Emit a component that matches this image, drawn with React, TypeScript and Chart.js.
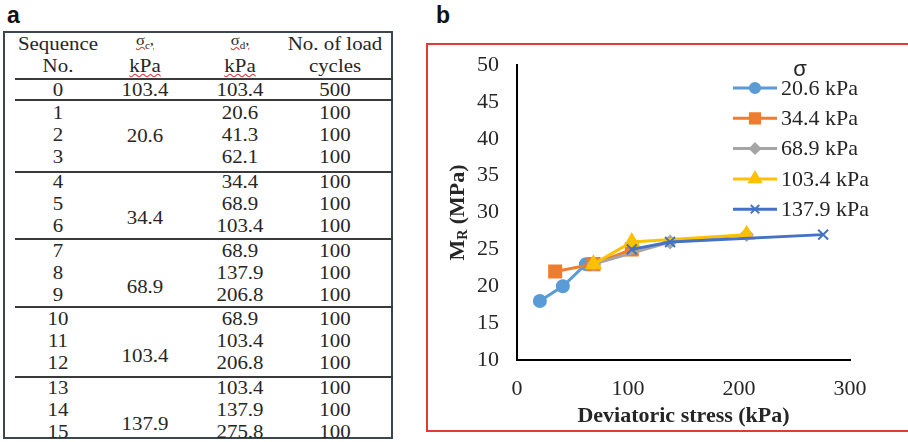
import React, { useEffect, useRef } from 'react';
import { Chart, registerables } from 'chart.js';
import { drawPoint } from 'chart.js/helpers';

Chart.register(...registerables);

// ---------- Panel b data ----------
const seriesNames = ['20.6 kPa', '34.4 kPa', '68.9 kPa', '103.4 kPa', '137.9 kPa'];
const stress20_6 = [20.6, 41.3, 62.1];
const modulus20_6 = [18, 20, 23];
const stress34_4 = [34.4, 68.9, 103.4];
const modulus34_4 = [22, 23, 25];
const stress68_9 = [68.9, 137.9, 206.8];
const modulus68_9 = [23, 26, 27];
const stress103_4 = [68.9, 103.4, 206.8];
const modulus103_4 = [23, 26, 27];
const stress137_9 = [103.4, 137.9, 275.8];
const modulus137_9 = [25, 26, 27];
const xTickValues = [0, 100, 200, 300];
const yTickValues = [10, 15, 20, 25, 30, 35, 40, 45, 50];

// ---------- Panel a data ----------
const seqNos = ['0', '1', '2', '3', '4', '5', '6', '7', '8', '9', '10', '11', '12', '13', '14', '15'];
const confiningGroups = ['20.6', '34.4', '68.9', '103.4', '137.9'];
const conditioningConfining = '103.4';
const deviatoricValues = ['103.4', '20.6', '41.3', '62.1', '34.4', '68.9', '103.4', '68.9', '137.9', '206.8', '68.9', '103.4', '206.8', '103.4', '137.9', '275.8'];
const loadCycles = ['500', '100', '100', '100', '100', '100', '100', '100', '100', '100', '100', '100', '100', '100', '100', '100'];

// ---------- styles ----------
const colors = ['#5B9BD5', '#ED7D31', '#A5A5A5', '#FFC000', '#4472C4'];
const pointStyles = ['circle', 'rect', 'rectRot', 'triangle', 'crossRot'];
const pointRadii = [6, 8.5, 6, 8, 7];
const serif = "'Liberation Serif', Tinos, 'Times New Roman', 'DejaVu Serif', serif";
const textColor = '#262626';

const stressSeries = [stress20_6, stress34_4, stress68_9, stress103_4, stress137_9];
const modulusSeries = [modulus20_6, modulus34_4, modulus68_9, modulus103_4, modulus137_9];

const overlayPlugin = {
  id: 'overlay',
  afterDraw(chart: any) {
    const { ctx, chartArea } = chart;
    // Y axis title with subscript
    ctx.save();
    ctx.translate(32, (chartArea.top + chartArea.bottom) / 2);
    ctx.rotate(-Math.PI / 2);
    ctx.fillStyle = textColor;
    ctx.textBaseline = 'middle';
    ctx.textAlign = 'left';
    const big = `bold 22px ${serif}`;
    const small = `bold 14px ${serif}`;
    ctx.font = big;
    const wM = ctx.measureText('M').width;
    const wRest = ctx.measureText(' (MPa)').width;
    ctx.font = small;
    const wR = ctx.measureText('R').width;
    let x = -(wM + wR + wRest) / 2;
    ctx.font = big;
    ctx.fillText('M', x, 0);
    x += wM;
    ctx.font = small;
    ctx.fillText('R', x, 5);
    x += wR;
    ctx.font = big;
    ctx.fillText(' (MPa)', x, 0);
    ctx.restore();

    // Legend
    ctx.save();
    const lx1 = chartArea.right - 117;
    const lx2 = chartArea.right - 73;
    const tx = chartArea.right - 69;
    ctx.fillStyle = textColor;
    ctx.font = `22px 'Liberation Sans', sans-serif`;
    ctx.textAlign = 'center';
    ctx.textBaseline = 'middle';
    ctx.fillText('σ', chartArea.right - 50, chartArea.top + 5);
    for (let i = 0; i < seriesNames.length; i++) {
      const y = chartArea.top + 23 + i * 30.3;
      ctx.strokeStyle = colors[i];
      ctx.lineWidth = 3;
      ctx.beginPath();
      ctx.moveTo(lx1, y);
      ctx.lineTo(lx2, y);
      ctx.stroke();
      ctx.fillStyle = colors[i];
      ctx.strokeStyle = colors[i];
      ctx.lineWidth = 2;
      drawPoint(ctx, { pointStyle: pointStyles[i], radius: pointRadii[i] * 0.85, rotation: 0, borderWidth: 2 } as any, (lx1 + lx2) / 2, y);
      ctx.fillStyle = textColor;
      ctx.font = `22px ${serif}`;
      ctx.textAlign = 'left';
      ctx.fillText(seriesNames[i], tx, y + 1);
    }
    ctx.restore();
  },
};

function ChartPanel() {
  const ref = useRef<HTMLCanvasElement | null>(null);
  useEffect(() => {
    if (!ref.current) return;
    const datasets = seriesNames.map((name, i) => ({
      label: name,
      data: stressSeries[i].map((x, j) => ({ x, y: modulusSeries[i][j] })),
      borderColor: colors[i],
      backgroundColor: colors[i],
      borderWidth: 3,
      pointStyle: pointStyles[i],
      pointRadius: pointRadii[i],
      pointHoverRadius: pointRadii[i],
      pointBorderWidth: 2,
      showLine: true,
      tension: 0,
      order: seriesNames.length - i,
    }));
    const chart = new Chart(ref.current, {
      type: 'scatter',
      data: { datasets },
      options: {
        animation: false,
        responsive: false,
        devicePixelRatio: 1,
        layout: { padding: { top: 22, right: 58, left: 0, bottom: 0 } },
        plugins: { legend: { display: false }, tooltip: { enabled: false } },
        scales: {
          x: {
            type: 'linear',
            min: xTickValues[0],
            max: xTickValues[xTickValues.length - 1],
            afterBuildTicks: (scale: any) => {
              scale.ticks = xTickValues.map((v) => ({ value: v }));
            },
            afterFit: (scale: any) => {
              scale.height = 72;
            },
            grid: { display: false, drawTicks: false },
            border: { display: true, color: '#000', width: 2 },
            ticks: { font: { family: serif, size: 22 }, color: textColor, padding: 16, maxRotation: 0 },
            title: {
              display: true,
              text: 'Deviatoric stress (kPa)',
              font: { family: serif, size: 22, weight: 'bold' },
              color: textColor,
              padding: { top: 0, bottom: 2 },
            },
          },
          y: {
            type: 'linear',
            min: yTickValues[0],
            max: yTickValues[yTickValues.length - 1],
            afterBuildTicks: (scale: any) => {
              scale.ticks = yTickValues.map((v) => ({ value: v }));
            },
            afterFit: (scale: any) => {
              scale.width = 91;
              scale.paddingTop = 0;
              scale.paddingBottom = 0;
            },
            grid: { display: false, drawTicks: false },
            border: { display: true, color: '#000', width: 2 },
            ticks: { font: { family: serif, size: 22 }, color: textColor, padding: 18 },
          },
        },
      } as any,
      plugins: [overlayPlugin],
    });
    return () => chart.destroy();
  }, []);
  return (
    <canvas
      ref={ref}
      width={482}
      height={389}
      style={{ position: 'absolute', left: 426, top: 43, width: 482, height: 389, display: 'block' }}
    />
  );
}

function Cell({ x, y, children, size = 19 }: { x: number; y: number; children: any; size?: number }) {
  return (
    <div
      style={{
        position: 'absolute',
        left: x,
        top: y,
        transform: 'translate(-50%, -50%) scaleX(1.1)',
        whiteSpace: 'nowrap',
        fontSize: size,
        lineHeight: 1,
        color: textColor,
        fontFamily: serif,
      }}
    >
      {children}
    </div>
  );
}

const wavy: React.CSSProperties = {
  textDecorationLine: 'underline',
  textDecorationStyle: 'wavy',
  textDecorationColor: '#e03030',
  textDecorationThickness: 1,
};

function TablePanel() {
  const colX = [58, 145, 240, 335];
  const groupStart = (g: number) => 112 + g * 68.75;
  const rowY = (i: number) => (i === 0 ? 89 : groupStart(Math.floor((i - 1) / 3)) + ((i - 1) % 3) * 22);
  const sepY = [79, 100, 172, 239, 307, 377];
  const groupLabelOffset = [1, 14, 14, 15, 14];
  return (
    <>
      <div
        style={{
          position: 'absolute',
          left: 3,
          top: 31,
          width: 390,
          height: 408,
          border: '2px solid #3c4650',
          boxSizing: 'border-box',
        }}
      />
      {sepY.map((y, i) => (
        <div key={'s' + i} style={{ position: 'absolute', left: 15, top: y - 1, width: 378, height: 2, background: '#3a3a3a' }} />
      ))}
      <Cell x={colX[0]} y={43}>Sequence</Cell>
      <Cell x={colX[0]} y={65}>No.</Cell>
      <Cell x={colX[1]} y={42} size={15}>
        <span style={wavy}>σ<sub style={{ fontSize: 10 }}>c</sub>,</span>
      </Cell>
      <Cell x={colX[1]} y={65}><span style={wavy}>kPa</span></Cell>
      <Cell x={colX[2]} y={42} size={15}>
        <span style={wavy}>σ<sub style={{ fontSize: 10 }}>d</sub>,</span>
      </Cell>
      <Cell x={colX[2]} y={65}><span style={wavy}>kPa</span></Cell>
      <Cell x={colX[3]} y={43}>No. of load</Cell>
      <Cell x={colX[3]} y={65}>cycles</Cell>
      {seqNos.map((s, i) => (
        <React.Fragment key={'r' + i}>
          <Cell x={colX[0]} y={rowY(i)}>{s}</Cell>
          <Cell x={colX[2]} y={rowY(i)}>{deviatoricValues[i]}</Cell>
          <Cell x={colX[3]} y={rowY(i)}>{loadCycles[i]}</Cell>
        </React.Fragment>
      ))}
      <Cell x={colX[1]} y={89}>{conditioningConfining}</Cell>
      {confiningGroups.map((c, g) => (
        <Cell key={'g' + g} x={colX[1]} y={groupStart(g) + 22 + groupLabelOffset[g]}>{c}</Cell>
      ))}
    </>
  );
}

export default function App() {
  return (
    <div style={{ position: 'fixed', left: 0, top: 0, width: 908, height: 442, background: '#fff', overflow: 'hidden' }}>
      <div style={{ position: 'absolute', left: 7, top: 2, fontFamily: "'Liberation Sans', Arial, sans-serif", fontWeight: 'bold', fontSize: 23, color: '#111' }}>a</div>
      <div style={{ position: 'absolute', left: 436, top: 2, fontFamily: "'Liberation Sans', Arial, sans-serif", fontWeight: 'bold', fontSize: 23, color: '#111' }}>b</div>
      <TablePanel />
      <div
        style={{
          position: 'absolute',
          left: 426,
          top: 43,
          width: 486,
          height: 389,
          border: '2px solid #e23a34',
          boxSizing: 'border-box',
        }}
      />
      <ChartPanel />
    </div>
  );
}
